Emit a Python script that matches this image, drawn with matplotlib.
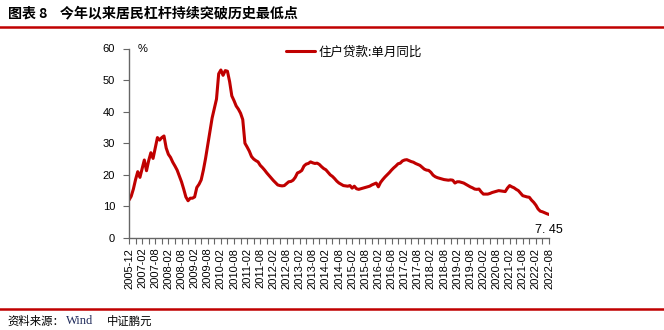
import matplotlib
matplotlib.use('Agg')
import matplotlib.pyplot as plt
from matplotlib.lines import Line2D

plt.rcParams['font.family'] = ['Noto Sans CJK SC', 'DejaVu Sans']

# 住户贷款:单月同比 (%), 月度
values = [
    12.0, 13.2, 15.5, 18.5, 21.0, 19.2, 22.0, 24.7, 21.3, 24.5, 27.0, 25.2,
    28.5, 31.8, 31.0, 31.8, 32.3, 28.5, 26.5, 25.5, 24.0, 22.8, 21.5, 19.6,
    17.8, 15.5, 13.0, 11.8, 12.6, 12.6, 13.0, 16.0, 17.0, 18.4, 21.5, 25.2,
    29.5, 34.0, 38.0, 41.0, 44.0, 52.0, 53.2, 51.5, 53.0, 52.8, 49.5, 45.0,
    43.5, 41.8, 40.8, 39.5, 37.5, 30.0, 28.8, 27.5, 25.8, 25.0, 24.5, 24.1,
    23.0, 22.3, 21.5, 20.6, 19.8, 19.0, 18.2, 17.5, 16.8, 16.6, 16.5, 16.6,
    17.2, 17.8, 17.9, 18.3, 19.2, 20.6, 20.9, 21.4, 22.8, 23.4, 23.6, 24.1,
    23.8, 23.6, 23.7, 23.3, 22.6, 22.0, 21.6, 20.8, 20.0, 19.5, 18.8, 18.0,
    17.4, 17.0, 16.6, 16.5, 16.4, 16.6, 15.8, 16.4, 15.6, 15.4, 15.6, 15.8,
    16.0, 16.2, 16.4, 16.8, 17.1, 17.4, 16.2, 17.6, 18.5, 19.3, 20.0, 20.7,
    21.5, 22.2, 22.8, 23.5, 23.7, 24.4, 24.7, 24.8, 24.5, 24.2, 24.0, 23.6,
    23.3, 23.0, 22.4, 21.8, 21.5, 21.4, 20.8, 19.9, 19.4, 19.1, 18.9, 18.7,
    18.5, 18.4, 18.3, 18.4, 18.3, 17.4, 17.8, 17.8, 17.6, 17.4, 17.0, 16.6,
    16.2, 15.9, 15.5, 15.4, 15.5, 14.6, 13.9, 13.9, 13.9, 14.1, 14.4, 14.6,
    14.8, 15.0, 14.9, 14.8, 14.7, 15.8, 16.6, 16.2, 15.9, 15.4, 15.0, 14.2,
    13.4, 13.2, 13.0, 12.9, 12.0, 11.3, 10.4, 9.2, 8.5, 8.3, 8.0, 7.7, 7.45,
]

tick_labels = [
    '2005-12', '2007-02', '2007-08', '2008-02', '2008-08', '2009-02', '2009-08',
    '2010-02', '2010-08', '2011-02', '2011-08', '2012-02', '2012-08', '2013-02',
    '2013-08', '2014-02', '2014-08', '2015-02', '2015-08', '2016-02', '2016-08',
    '2017-02', '2017-08', '2018-02', '2018-08', '2019-02', '2019-08', '2020-02',
    '2020-08', '2021-02', '2021-08', '2022-02', '2022-08',
]

red = '#C00000'
axis_color = '#666666'
W, H = 664, 330

fig = plt.figure(figsize=(W / 100, H / 100), dpi=100)
ax = fig.add_axes([129 / W, (H - 238) / H, 420 / W, 189.5 / H])

x = list(range(len(values)))
ax.plot(x, values, color=red, lw=2.2, label='住户贷款:单月同比', solid_capstyle='round')

ax.set_xlim(0, len(values) - 1)
ax.set_ylim(0, 60)
ax.set_yticks(range(0, 61, 10))
ax.set_xticks(range(0, len(values), 6))
ax.set_xticklabels(tick_labels, rotation=90, fontsize=8, family='Liberation Sans')
ax.set_xticks(range(0, len(values), 3), minor=True)
ax.tick_params(axis='y', labelsize=8, length=4, width=0.8, color=axis_color, pad=6)
ax.tick_params(axis='x', which='both', length=4, width=0.8, color=axis_color, pad=3)
for lab in ax.get_yticklabels():
    lab.set_family('Liberation Sans')

for s in ['top', 'right']:
    ax.spines[s].set_visible(False)
for s in ['left', 'bottom']:
    ax.spines[s].set_color(axis_color)
    ax.spines[s].set_linewidth(1.0)

ax.text(0.02, 1.0, '%', transform=ax.transAxes, fontsize=8, family='Liberation Sans',
        va='center', ha='left')

ax.annotate('7. 45', xy=(x[-1], values[-1]), xytext=(0, -11), textcoords='offset points',
            ha='center', va='center', fontsize=9, family='Liberation Sans',
            annotation_clip=False)

ax.legend(loc='center left', bbox_to_anchor=(280 / W, 1 - 52 / H), bbox_transform=fig.transFigure,
          frameon=False, fontsize=9, handlelength=2.3, handletextpad=0.3, borderpad=0)

# 标题和来源
fig.text(8 / W, 1 - 13 / H, '图表 8    今年以来居民杠杆持续突破历史最低点', fontsize=10.1,
         weight='bold', va='center', ha='left')
fig.add_artist(Line2D([0, 1], [1 - 27 / H, 1 - 27 / H], transform=fig.transFigure,
                      color=red, lw=1.8))
fig.add_artist(Line2D([0, 1], [1 - 309 / H, 1 - 309 / H], transform=fig.transFigure,
                      color=red, lw=1.8))
fig.text(7 / W, 1 - 321 / H, '资料来源：', fontsize=8.2, va='center', ha='left')
fig.text(66 / W, 1 - 321 / H, 'Wind', fontsize=9, va='center', ha='left',
         family='Liberation Serif', color='#1F2A5A')
fig.text(107 / W, 1 - 321 / H, '中证鹏元', fontsize=8.2, va='center', ha='left')

fig.savefig('out.png', dpi=100)
